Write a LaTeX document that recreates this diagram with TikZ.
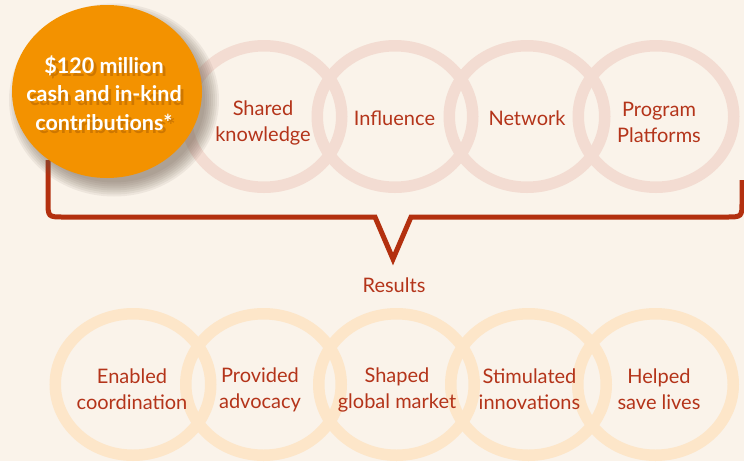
\documentclass[tikz,border=0pt]{standalone}
\usepackage{fontspec}
\setmainfont{Lato}
\usetikzlibrary{shapes.geometric}
\definecolor{bg}{HTML}{FAF3EA}
\definecolor{ringtop}{HTML}{F3DCD2}
\definecolor{ringbot}{HTML}{FDE6C9}
\definecolor{txtred}{HTML}{B4341A}
\definecolor{brk}{HTML}{B3300F}
\definecolor{orng}{HTML}{F39200}
\definecolor{tshadow}{HTML}{7A3A00}
\definecolor{cshadow}{HTML}{6A5A4A}
\tikzset{
  ringbase/.style={ellipse, line width=11.5pt, minimum width=155.5pt, minimum height=141.5pt, inner sep=0pt},
  topring/.style={ringbase, draw=ringtop},
  botring/.style={ringbase, draw=ringbot},
  lbl/.style={align=center, text=txtred, inner sep=0pt, font=\fontsize{20}{26}\selectfont},
  otext/.style={align=center, inner sep=0pt, font=\bfseries\fontsize{21.5}{28.5}\selectfont},
  bracketline/.style={draw=brk, line width=5pt, line join=miter},
}
\begin{document}
\begin{tikzpicture}[x=1pt,y=-1pt]
\useasboundingbox (0,0) rectangle (744,461);
\fill[bg] (0,0) rectangle (744,461);
\begin{scope}
\clip (0,0) rectangle (744,461);
% top rings
\node[topring] (t1) at (264,116.5) {};
\node[topring] (t2) at (395,116.5) {};
\node[topring] (t3) at (527,116.5) {};
\node[topring] (t4) at (656,116.5) {};
% bottom rings
\node[botring] (b1) at (133,384.5) {};
\node[botring] (b2) at (263.5,384.5) {};
\node[botring] (b3) at (396.5,384.5) {};
\node[botring] (b4) at (528.5,384.5) {};
\node[botring] (b5) at (655.5,384.5) {};
% bracket
\draw[bracketline] (48,160) -- (48,201) .. controls (48,217) .. (64,217) -- (375,217) -- (393,259) -- (411,217) -- (726,217) .. controls (742,217) .. (742,201) -- (742,180);
% soft shadow of the orange circle
\foreach \d in {10,8,6,4,2,0,-2,-4}
  \fill[cshadow, opacity=0.085] (114,100) circle[x radius=95+\d, y radius=86.5+\d];
% orange circle
\node[ellipse, fill=orng, minimum width=190pt, minimum height=173pt, inner sep=0pt] (c) at (107,91.5) {};
\node[otext, text=tshadow, opacity=0.3] (s1) at (107,96.5) {\$120 million\\cash and in-kind\\contributions*};
\node[otext, text=white] (ct) at (104,93) {\$120 million\\cash and in-kind\\contributions*};
% top labels
\node[lbl] (l1) at (263,122.5) {Shared\\knowledge};
\node[lbl] (l2) at (394.5,118.5) {Influence};
\node[lbl] (l3) at (527,118.5) {Network};
\node[lbl] (l4) at (659,122.5) {Program\\Platforms};
\node[lbl] (res) at (394,285) {Results};
% bottom labels
\node[lbl] (m1) at (132,389.5) {Enabled\\coordination};
\node[lbl] (m2) at (260,389.5) {Provided\\advocacy};
\node[lbl] (m3) at (397,389.5) {Shaped\\global market};
\node[lbl] (m4) at (529.5,389.5) {Stimulated\\innovations};
\node[lbl] (m5) at (659,389.5) {Helped\\save lives};
\end{scope}
\end{tikzpicture}
\end{document}
